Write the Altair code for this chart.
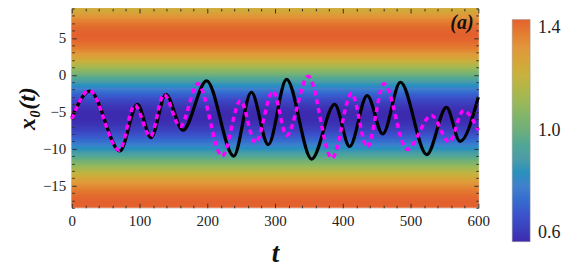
import altair as alt
import pandas as pd

# ---------------- data ----------------
t_major = [0, 100, 200, 300, 400, 500, 600]
t_minor = list(range(0, 601, 20))
y_major = [-15, -10, -5, 0, 5]
y_minor = list(range(-18, 10))
cbar_ticks = [0.6, 1.0, 1.4]

black_t = [0, 27, 71, 97, 117, 139, 164, 199, 239, 265, 290, 317, 354, 388, 410,
           436, 459, 485, 524, 553, 573, 600]
black_x = [-5.8, -2.2, -10.3, -4.0, -8.5, -2.65, -7.5, -0.8, -11.0, -2.35, -9.45,
           -0.6, -11.4, -4.0, -9.7, -2.8, -8.0, -1.0, -10.8, -4.4, -9.0, -3.0]

mag_t = [0, 26, 70, 93, 116, 136, 160, 186, 222, 249, 271, 297, 317, 349, 384,
         413, 436, 461, 495, 531, 557, 578, 600]
mag_x = [-6.0, -2.1, -10.2, -4.1, -8.35, -2.65, -7.0, -1.2, -11.0, -3.5, -9.2,
         -2.2, -8.2, -0.2, -11.3, -2.5, -9.8, -1.2, -10.1, -5.5, -9.1, -4.85, -7.5]

# background field: value in each 0.25-wide band of x0, from -18 up to 9
bg_lo = [-18 + 0.25 * i for i in range(108)]
bg_val = [
    1.398, 1.400, 1.400, 1.398, 1.395, 1.390, 1.383, 1.374, 1.364, 1.353,
    1.340, 1.325, 1.309, 1.292, 1.273, 1.254, 1.233, 1.211, 1.189, 1.165,
    1.141, 1.116, 1.091, 1.065, 1.039, 1.013, 0.987, 0.961, 0.935, 0.909,
    0.884, 0.859, 0.835, 0.811, 0.789, 0.767, 0.746, 0.727, 0.708, 0.691,
    0.675, 0.660, 0.647, 0.636, 0.626, 0.617, 0.610, 0.605, 0.602, 0.600,
    0.600, 0.602, 0.606, 0.613, 0.621, 0.631, 0.643, 0.657, 0.673, 0.690,
    0.709, 0.729, 0.751, 0.774, 0.799, 0.824, 0.850, 0.878, 0.905, 0.934,
    0.962, 0.991, 1.020, 1.048, 1.077, 1.105, 1.132, 1.159, 1.185, 1.210,
    1.234, 1.257, 1.278, 1.298, 1.317, 1.333, 1.348, 1.362, 1.373, 1.382,
    1.390, 1.395, 1.399, 1.400, 1.399, 1.396, 1.392, 1.385, 1.376, 1.365,
    1.352, 1.338, 1.321, 1.303, 1.284, 1.263, 1.241, 1.217,
]

cmap_stops = [0.6, 0.7, 0.8, 0.9, 1.0, 1.1, 1.2, 1.3, 1.4]
cmap_colors = ["#3d2aae", "#3b55cc", "#4180cc", "#4d9ca6", "#6eae7c",
               "#9ab858", "#c8b23e", "#e2963a", "#e3612e"]

# ---------------- chart ----------------
W, H = 408, 200
FONT = "Liberation Serif"

xscale = alt.Scale(domain=[0, 600], nice=False, zero=False)
yscale = alt.Scale(domain=[-18, 9], nice=False, zero=False)
cscale = alt.Scale(domain=cmap_stops, range=cmap_colors)

# each band is drawn taller than its step; the next band covers the excess,
# so every pixel is fully painted and no seams show
bg_df = pd.DataFrame({"lo": bg_lo, "hi": [min(v + 1.0, 9) for v in bg_lo],
                      "val": bg_val, "t0": 0, "t1": 600})
black_df = pd.DataFrame({"t": black_t, "v": black_x})
mag_df = pd.DataFrame({"t": mag_t, "v": mag_x})


def tick_axis(orient, offset, vals, test):
    return alt.Axis(orient=orient, offset=offset, values=vals, labels=False,
                    domain=False, grid=False, title=None, tickColor="#333",
                    tickWidth=1, zindex=1,
                    tickSize={"condition": {"test": test, "value": 4.5}, "value": 2.5})


x_lab_axis = alt.Axis(orient="bottom", values=t_major, ticks=False, domain=False,
                      grid=False, labelFont=FONT, labelFontSize=15, labelColor="#222",
                      labelPadding=6, labelFlush=False, title="t", titleFont=FONT,
                      titleFontSize=27, titleFontStyle="italic", titleFontWeight="bold",
                      titleColor="#111", titleX=W / 2, titleY=54,
                      titleBaseline="alphabetic", zindex=1)
y_lab_axis = alt.Axis(orient="left", values=y_major, ticks=False, domain=False,
                      grid=False, labelFont=FONT, labelFontSize=15, labelColor="#222",
                      labelPadding=6, labelFlush=False, title="x₀(t)", titleFont=FONT,
                      titleFontSize=24, titleFontStyle="italic", titleFontWeight="bold",
                      titleColor="#111", titleX=-37, titleY=H / 2,
                      titleBaseline="alphabetic", titleAngle=270, zindex=1)

legend = alt.Legend(type="gradient", orient="none", legendX=442, legendY=11,
                    direction="vertical", gradientLength=223, gradientThickness=18,
                    values=cbar_ticks, format=".1f", labelFont=FONT, labelFontSize=18,
                    labelColor="#222", labelOffset=8, labelBaseline="middle",
                    title=None, padding=0, gradientStrokeColor="#999",
                    gradientStrokeWidth=0.5, labelOverlap=False)

bg = alt.Chart(bg_df).mark_rect().encode(
    x=alt.X("t0:Q", scale=xscale, axis=x_lab_axis),
    x2="t1",
    y=alt.Y("lo:Q", scale=yscale, axis=y_lab_axis),
    y2="hi",
    color=alt.Color("val:Q", scale=cscale, legend=legend),
    order=alt.Order("lo:Q"),
)

black = alt.Chart(black_df).mark_line(color="#000000", strokeWidth=3.2,
                                      interpolate="monotone").encode(
    x=alt.X("t:Q", scale=xscale, axis=tick_axis("top", -H, t_minor, "datum.value % 100 === 0")),
    y=alt.Y("v:Q", scale=yscale, axis=tick_axis("right", -W, y_minor, "datum.value % 5 === 0")),
)

mag = alt.Chart(mag_df).mark_line(color="#ff00ff", strokeWidth=3.5, strokeDash=[5, 4],
                                  interpolate="monotone").encode(
    x=alt.X("t:Q", scale=xscale, axis=tick_axis("bottom", -H, t_minor, "datum.value % 100 === 0")),
    y=alt.Y("v:Q", scale=yscale, axis=tick_axis("left", -W, y_minor, "datum.value % 5 === 0")),
)

label = alt.Chart(pd.DataFrame({"t": [593], "v": [7.0], "s": ["(a)"]})).mark_text(
    align="right", baseline="middle", font=FONT, fontSize=20, fontStyle="italic",
    fontWeight="bold", color="#111").encode(
    x=alt.X("t:Q", scale=xscale, axis=None),
    y=alt.Y("v:Q", scale=yscale, axis=None),
    text="s:N",
)

chart = alt.layer(bg, black, mag, label).resolve_axis(
    x="independent", y="independent"
).properties(
    width=W, height=H,
    autosize=alt.AutoSizeParams(type="none"),
    padding={"left": 64, "top": 0, "right": 92, "bottom": 60},
).configure_view(stroke="#555", strokeWidth=1).configure(background="white")

chart.save("out.html", embed_options={"renderer": "svg", "actions": False})
